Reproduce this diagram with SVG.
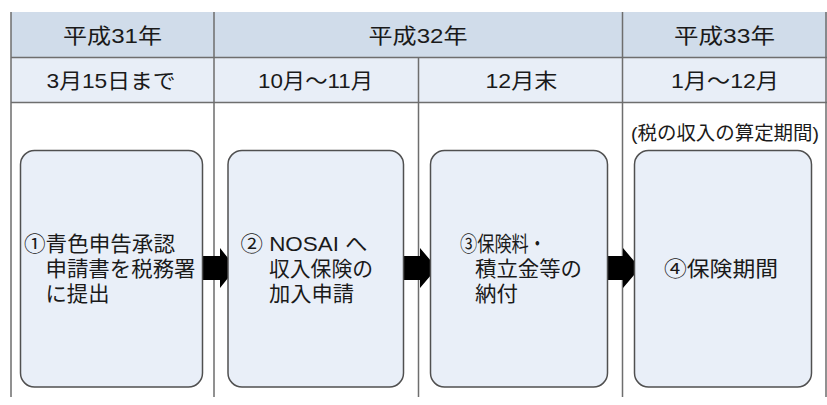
<svg xmlns="http://www.w3.org/2000/svg" width="827" height="405" viewBox="0 0 827 405">
<style>
.t{font-family:"Liberation Sans","Noto Sans CJK JP",sans-serif;font-size:21px;fill:#1a1a1a}
.h{text-anchor:middle}
.box{fill:#e9eff8;stroke:#505050;stroke-width:1.5}
.grid{stroke:#6e6e6e;stroke-width:1.5;fill:none}
.arrow{fill:#000}
</style>
<rect width="827" height="405" fill="#ffffff"/>
<g id="table">
<rect x="11" y="12" width="816" height="45.5" fill="#d0dcea"/>
<rect x="11" y="57.5" width="816" height="45" fill="#e8eef7"/>
<path class="grid" d="M11 57.5H827M11 102.5H827M11 12V397M214 12V397M418.5 57.5V397M622.5 12V397M826 12V397"/>
<text class="t h" x="112.5" y="43" textLength="99" lengthAdjust="spacingAndGlyphs">平成31年</text>
<text class="t h" x="418" y="43" textLength="99" lengthAdjust="spacingAndGlyphs">平成32年</text>
<text class="t h" x="724.5" y="43" textLength="101" lengthAdjust="spacingAndGlyphs">平成33年</text>
<text class="t h" x="111" y="88" textLength="129" lengthAdjust="spacingAndGlyphs">3月15日まで</text>
<text class="t h" x="315.5" y="88" textLength="115" lengthAdjust="spacingAndGlyphs">10月～11月</text>
<text class="t h" x="521.5" y="88" textLength="72" lengthAdjust="spacingAndGlyphs">12月末</text>
<text class="t h" x="725" y="88" textLength="108" lengthAdjust="spacingAndGlyphs">1月～12月</text>
<text class="t h" x="725" y="140" style="font-size:19px" textLength="188" lengthAdjust="spacingAndGlyphs">(税の収入の算定期間)</text>
</g>
<g id="connectors">
<polygon class="arrow" points="199,256 220,256 220,248 236,268 220,288 220,280 199,280"/>
<polygon class="arrow" points="399,256 420,256 420,248 437,268 420,288 420,280 399,280"/>
<polygon class="arrow" points="602,256 623,256 623,248 640,268 623,288 623,280 602,280"/>
</g>
<g id="node1">
<rect class="box" x="20.5" y="150.5" width="182" height="236.5" rx="14"/>
<text class="t"><tspan x="24" y="251" textLength="151" lengthAdjust="spacingAndGlyphs">①青色申告承認</tspan><tspan x="45.5" y="276" textLength="150" lengthAdjust="spacingAndGlyphs">申請書を税務署</tspan><tspan x="45.5" y="301" textLength="64" lengthAdjust="spacingAndGlyphs">に提出</tspan></text>
</g>
<g id="node2">
<rect class="box" x="228" y="150.5" width="175.5" height="236.5" rx="14"/>
<text class="t"><tspan x="240.5" y="251" textLength="127" lengthAdjust="spacingAndGlyphs">② NOSAI へ</tspan><tspan x="269" y="276" textLength="104" lengthAdjust="spacingAndGlyphs">収入保険の</tspan><tspan x="269" y="301" textLength="85" lengthAdjust="spacingAndGlyphs">加入申請</tspan></text>
</g>
<g id="node3">
<rect class="box" x="430.5" y="150.5" width="177" height="236.5" rx="14"/>
<text class="t"><tspan x="460" y="251" textLength="86" lengthAdjust="spacingAndGlyphs">③保険料・</tspan><tspan x="475" y="276" textLength="107" lengthAdjust="spacingAndGlyphs">積立金等の</tspan><tspan x="475" y="301" textLength="43" lengthAdjust="spacingAndGlyphs">納付</tspan></text>
</g>
<g id="node4">
<rect class="box" x="634.5" y="150.5" width="177" height="236.5" rx="14"/>
<text class="t" x="664" y="276" textLength="114" lengthAdjust="spacingAndGlyphs">④保険期間</text>
</g>
</svg>
